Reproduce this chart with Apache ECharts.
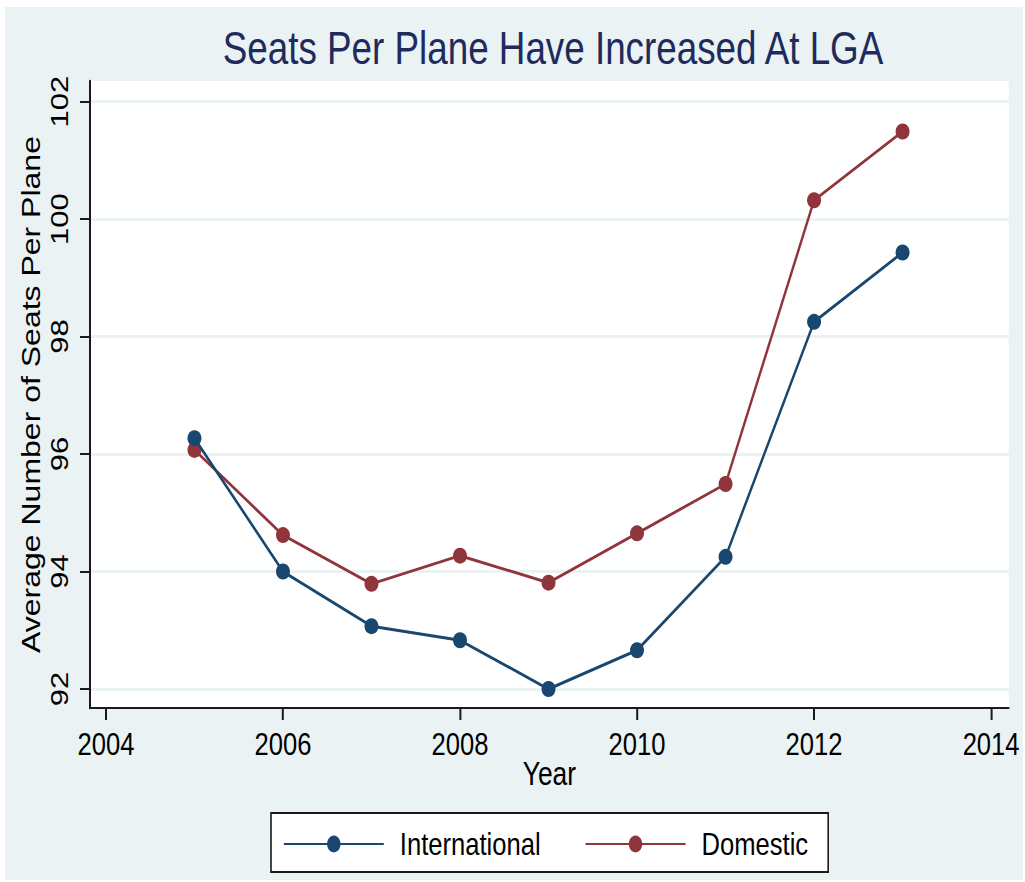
<!DOCTYPE html>
<html>
<head>
<meta charset="utf-8">
<script src="https://cdn.jsdelivr.net/npm/echarts@6/dist/echarts.min.js"></script>
<style>
  html, body { margin: 0; padding: 0; background: #ffffff; overflow: hidden; }
  #bg { position: absolute; left: 5px; top: 7px; width: 1018px; height: 873px; background: #eaf2f3; }
  /* The reference is a horizontally compressed graph: draw it wider, then squeeze it to 1025px. */
  #chart { position: absolute; left: 0; top: 0; width: 1281.25px; height: 882px;
           transform: scaleX(0.8); transform-origin: 0 0; }
</style>
</head>
<body>
<div id="bg"></div>
<div id="chart"></div>
<script>
// ---- data ----
const years = [2005, 2006, 2007, 2008, 2009, 2010, 2011, 2012, 2013];
const international = [96.27, 94.00, 93.07, 92.83, 92.00, 92.66, 94.25, 98.25, 99.43];
const domestic = [96.07, 94.62, 93.79, 94.27, 93.81, 94.65, 95.49, 100.32, 101.49];
const xTicks = [2004, 2006, 2008, 2010, 2012, 2014];
const yTicks = [92, 94, 96, 98, 100, 102];
const seriesNames = ['International', 'Domestic'];
const titleText = 'Seats Per Plane Have Increased At LGA';
const xName = 'Year';
const yName = 'Average Number of Seats Per Plane';

const S = 0.8;                 // horizontal squeeze of the page
const px = v => v / S;         // page x-distance -> chart x-distance
const FONT = "'Liberation Sans', Arial, sans-serif";
const navy = '#1a476f';
const maroon = '#90353b';
const axisColor = '#1a1a1a';

const chart = echarts.init(document.getElementById('chart'), null, { renderer: 'svg' });

function pairs(vals) { return years.map((y, i) => [y, vals[i]]); }

chart.setOption({
  backgroundColor: 'transparent',
  animation: false,
  title: {
    text: titleText,
    left: px(549),
    top: 20,
    textAlign: 'center',
    textStyle: { fontFamily: FONT, fontSize: 46, fontWeight: 'normal', color: '#1e2b5c' }
  },
  grid: {
    left: px(90), top: 81, right: px(16), bottom: 174,
    outerBoundsMode: 'none',
    containLabel: false,
    show: true, backgroundColor: '#ffffff', borderWidth: 0
  },
  xAxis: {
    type: 'value',
    min: 2003.82,
    max: 2014.2,
    name: xName,
    nameLocation: 'middle',
    nameGap: 49,
    nameMoveOverlap: false,
    nameTextStyle: { fontFamily: FONT, fontSize: 33, color: '#000' },
    axisLine: { show: true, onZero: false, lineStyle: { color: axisColor, width: 2 } },
    axisTick: { show: true, length: 12, lineStyle: { color: axisColor, width: 2.5 }, customValues: xTicks },
    axisLabel: { customValues: xTicks, formatter: v => String(v), margin: 20,
                 fontFamily: FONT, fontSize: 32, color: '#000' },
    splitLine: { show: false }
  },
  yAxis: {
    type: 'value',
    min: 91.677,
    max: 102.35,
    name: yName,
    nameLocation: 'middle',
    nameRotate: 90,
    nameGap: px(46),
    nameMoveOverlap: false,
    nameTextStyle: { fontFamily: FONT, fontSize: 32, color: '#000' },
    axisLine: { show: true, lineStyle: { color: axisColor, width: 2.5 } },
    axisTick: { show: true, length: px(10), lineStyle: { color: axisColor, width: 2 }, customValues: yTicks },
    axisLabel: { customValues: yTicks, rotate: 90, margin: px(18), fontFamily: FONT, fontSize: 31, color: '#000' },
    splitLine: { show: true, lineStyle: { color: '#eaf2f3', width: 3 } }
  },
  legend: {
    data: seriesNames,
    left: px(271),
    top: 813,
    orient: 'horizontal',
    itemWidth: px(100),
    itemHeight: 21,
    itemGap: px(44),
    padding: [15, px(20), 12, px(12)],
    borderColor: axisColor,
    borderWidth: 2,
    backgroundColor: '#ffffff',
    textStyle: { fontFamily: FONT, fontSize: 32, color: '#000', padding: [0, 0, 0, px(12)] }
  },
  series: [
    {
      name: seriesNames[0],
      type: 'line',
      data: pairs(international),
      symbol: 'circle',
      symbolSize: [px(14), 16],
      lineStyle: { color: navy, width: 3 },
      itemStyle: { color: navy },
      z: 3
    },
    {
      name: seriesNames[1],
      type: 'line',
      data: pairs(domestic),
      symbol: 'circle',
      symbolSize: [px(14), 16],
      lineStyle: { color: maroon, width: 3 },
      itemStyle: { color: maroon },
      z: 2
    }
  ]
});
</script>
</body>
</html>
